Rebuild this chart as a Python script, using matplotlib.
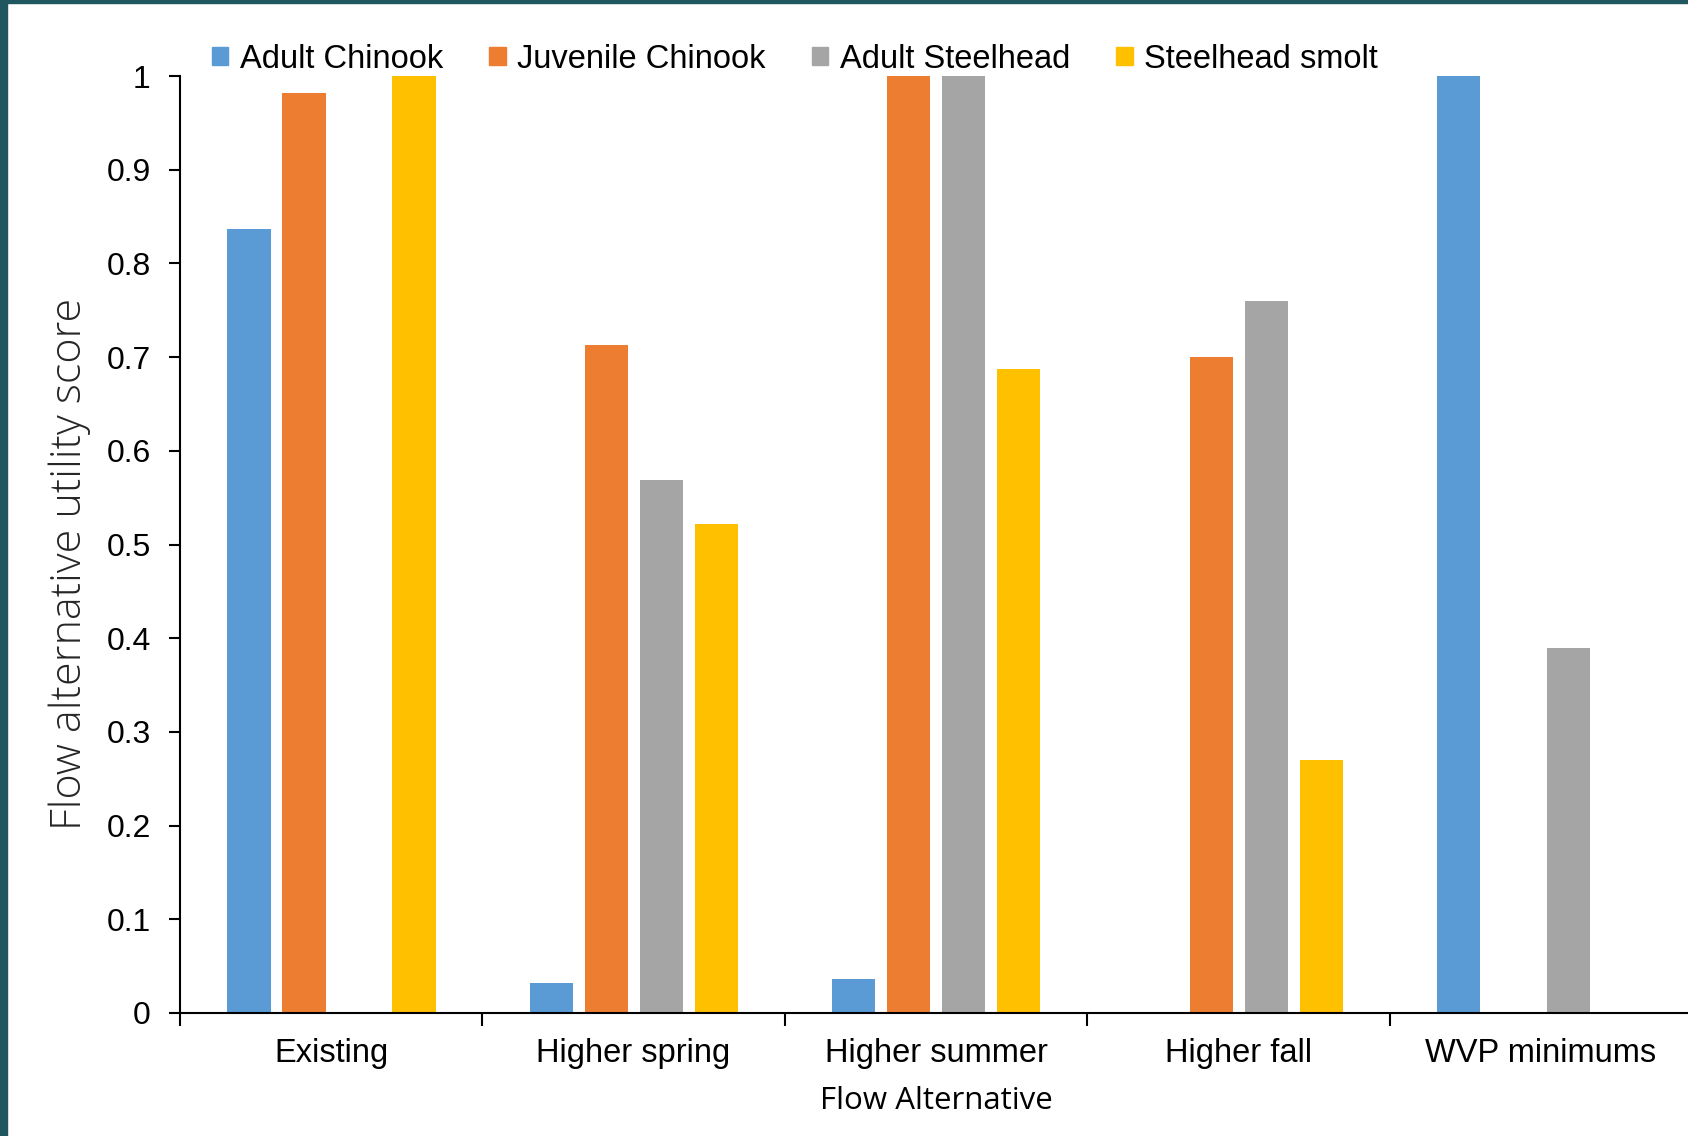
import numpy as np
import matplotlib.pyplot as plt
from matplotlib.patches import Patch, Rectangle

alternatives = ['Existing', 'Higher spring', 'Higher summer', 'Higher fall', 'WVP minimums']
species = ['Adult Chinook', 'Juvenile Chinook', 'Adult Steelhead', 'Steelhead smolt']
adult_chinook = [0.837, 0.032, 0.036, 0.0, 1.0]
juvenile_chinook = [0.982, 0.713, 1.0, 0.700, 0.0]
adult_steelhead = [0.0, 0.569, 1.0, 0.760, 0.390]
steelhead_smolt = [1.0, 0.522, 0.687, 0.270, 0.0]
colors = ['#5b9bd5', '#ed7d31', '#a5a5a5', '#ffc000']


def plot_utility():
    plt.rcParams['font.family'] = ['Liberation Sans', 'DejaVu Sans']
    fig = plt.figure(figsize=(16.88, 11.36), dpi=100)

    # dark frame on the left and top edges
    fig.patches.append(Rectangle((0, 0), 7 / 1688, 1, transform=fig.transFigure,
                                 color='#1f5660', zorder=10))
    fig.patches.append(Rectangle((0, 1 - 3 / 1136), 1, 3 / 1136, transform=fig.transFigure,
                                 color='#1f5660', zorder=10))

    ax = fig.add_axes([180 / 1688, 123 / 1136, 1512 / 1688, 937 / 1136])
    x = np.arange(len(alternatives))
    series = [adult_chinook, juvenile_chinook, adult_steelhead, steelhead_smolt]
    offsets = [-0.272, -0.09, 0.092, 0.274]
    for vals, off, c in zip(series, offsets, colors):
        ax.bar(x + off, vals, width=0.143, color=c, zorder=2)

    ax.set_xlim(-0.5, len(alternatives) - 0.5)
    ax.set_ylim(0, 1)
    ax.set_yticks(np.arange(0, 1.01, 0.1))
    ax.set_yticklabels(['0'] + [f'{v:.1f}' for v in np.arange(0.1, 0.95, 0.1)] + ['1'])
    ax.set_xticks(np.arange(-0.5, len(alternatives), 1.0))
    ax.set_xticklabels([])
    ax.set_xticks(x, minor=True)
    ax.set_xticklabels(alternatives, minor=True)
    ax.tick_params(axis='x', which='major', length=9, width=1.5, direction='out')
    ax.tick_params(axis='x', which='minor', length=0, pad=18, labelsize=23.5)
    ax.tick_params(axis='y', length=8, width=1.5, labelsize=23, pad=13)

    for side in ['top', 'right']:
        ax.spines[side].set_visible(False)
    ax.spines['left'].set_linewidth(1.5)
    ax.spines['bottom'].set_linewidth(1.5)

    ax.set_xlabel('Flow Alternative', fontsize=22.5, labelpad=12,
                  family=['Open Sans', 'DejaVu Sans'])
    ax.set_ylabel('Flow alternative utility score', fontsize=31,
                  family=['Open Sans', 'DejaVu Sans'], fontweight='light', color='#262626')
    ax.yaxis.set_label_coords(-0.059, 0.479)

    handles = [Patch(color=c) for c in colors]
    fig.legend(handles, species, loc='center left', bbox_to_anchor=(212 / 1688, 1 - 59 / 1136),
               ncol=4, frameon=False, fontsize=23.5, handlelength=0.5, handleheight=0.5,
               handletextpad=0.35, columnspacing=1.42, borderaxespad=0, borderpad=0)

    plt.savefig('out.png', dpi=100)


if __name__ == "__main__":
    plot_utility()
